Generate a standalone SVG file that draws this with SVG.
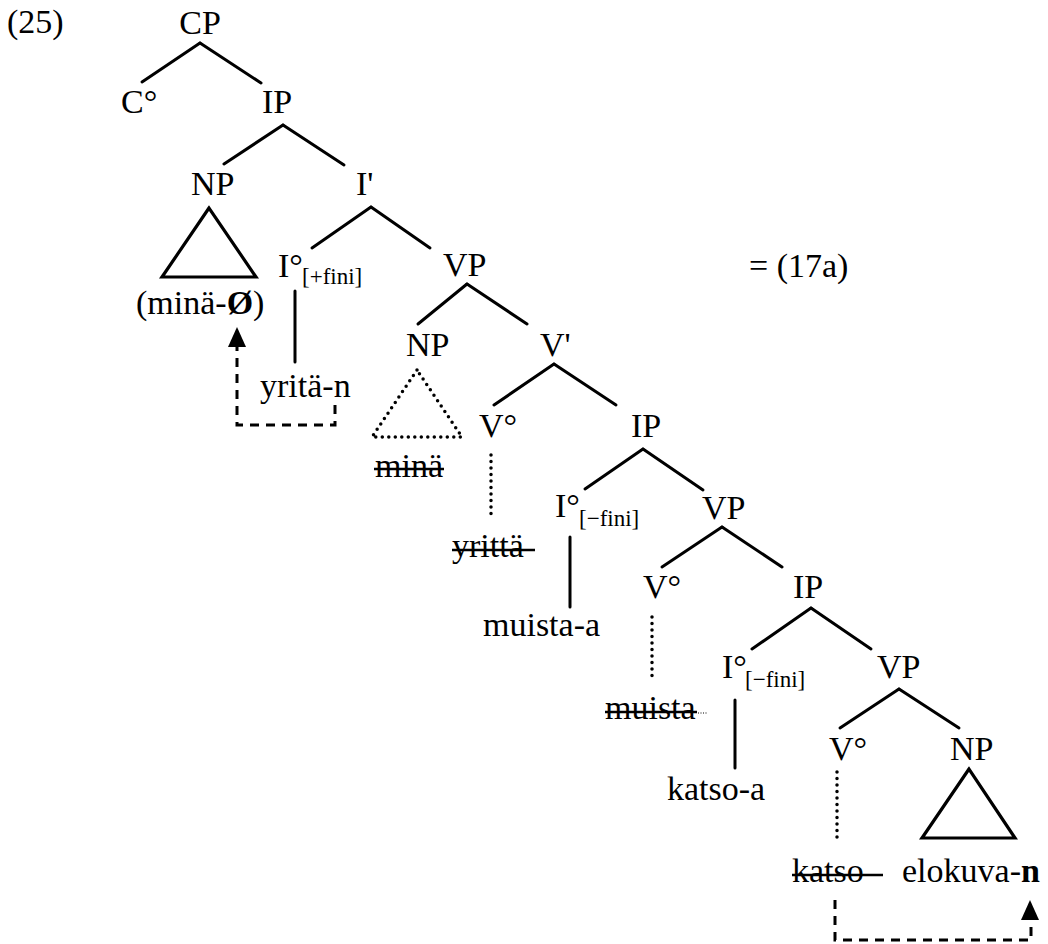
<svg xmlns="http://www.w3.org/2000/svg" width="1048" height="944" viewBox="0 0 1048 944">
<style>
text{font-family:"Liberation Serif","Times New Roman",serif;font-size:34px;fill:#000}
.sub{font-size:23px}
.e{stroke:#000;stroke-width:3;fill:none;stroke-linecap:round}
.tri{stroke:#000;stroke-width:3.2;fill:none;stroke-linejoin:miter}
.dot{stroke:#000;stroke-width:3.5;fill:none;stroke-linecap:round;stroke-dasharray:0 6.5}
.dash{stroke:#000;stroke-width:3;fill:none;stroke-dasharray:9 7}
.strike{stroke:#000;stroke-width:2.5}
</style>
<rect width="1048" height="944" fill="#fff"/>
<g id="label-25"><text x="7" y="33">(25)</text></g>
<g id="ref-17a"><text x="749" y="277">= (17a)</text></g>
<g id="CP"><text x="200" y="34" text-anchor="middle">CP</text></g>
<g id="C0"><text x="121" y="113">C°</text></g>
<g id="IP1"><text x="262" y="113">IP</text></g>
<g id="NP1"><text x="191" y="195">NP</text>
<polygon class="tri" points="209,208 162,277 256,277"/>
<text x="136" y="314">(minä-<tspan font-weight="bold">Ø</tspan>)</text></g>
<g id="I1bar"><text x="356" y="195">I'</text></g>
<g id="I0fin"><text x="278" y="277">I°</text><text class="sub" x="302" y="284">[+fini]</text>
<text x="260" y="397">yritä-n</text></g>
<g id="VP1"><text x="443" y="276">VP</text></g>
<g id="NP2"><text x="406" y="356">NP</text>
<polygon class="dot" points="417,370 372,437 462,437"/>
<text x="375" y="477">minä</text><line class="strike" x1="374" y1="469" x2="444" y2="469"/></g>
<g id="Vbar"><text x="540" y="356">V'</text></g>
<g id="V0a"><text x="479" y="437">V°</text>
<text x="452" y="557">yrittä</text><line class="strike" x1="452" y1="550" x2="535" y2="550"/></g>
<g id="IP2"><text x="631" y="437">IP</text></g>
<g id="I0nf1"><text x="555" y="517">I°</text><text class="sub" x="579" y="526">[−fini]</text>
<text x="483" y="636">muista-a</text></g>
<g id="VP2"><text x="702" y="519">VP</text></g>
<g id="V0b"><text x="643" y="598">V°</text>
<text x="605" y="719">muista</text><line class="strike" x1="605" y1="712" x2="697" y2="712"/>
<line x1="698" y1="713" x2="708" y2="713" stroke="#000" stroke-width="1" stroke-dasharray="1 1.5"/></g>
<g id="IP3"><text x="793" y="598">IP</text></g>
<g id="I0nf2"><text x="722" y="678">I°</text><text class="sub" x="745" y="687">[−fini]</text>
<text x="667" y="800">katso-a</text></g>
<g id="VP3"><text x="877" y="678">VP</text></g>
<g id="V0c"><text x="829" y="760">V°</text>
<text x="792" y="882">katso</text><line class="strike" x1="792" y1="875" x2="883" y2="875"/></g>
<g id="NP3"><text x="950" y="760">NP</text>
<polygon class="tri" points="969,769 922,838 1015,838"/>
<text x="902" y="882">elokuva-<tspan font-weight="bold">n</tspan></text></g>
<g id="connectors">
<line class="e" x1="200" y1="43" x2="142" y2="82"/>
<line class="e" x1="200" y1="43" x2="261" y2="83"/>
<line class="e" x1="283" y1="125" x2="224" y2="164"/>
<line class="e" x1="283" y1="125" x2="344" y2="165"/>
<line class="e" x1="371" y1="207" x2="312" y2="248"/>
<line class="e" x1="371" y1="207" x2="430" y2="248"/>
<line class="e" x1="295" y1="291" x2="295" y2="362"/>
<line class="e" x1="467" y1="284" x2="418" y2="324"/>
<line class="e" x1="467" y1="284" x2="527" y2="324"/>
<line class="e" x1="554" y1="364" x2="494" y2="405"/>
<line class="e" x1="554" y1="364" x2="616" y2="405"/>
<line class="dot" x1="491" y1="455" x2="491" y2="520"/>
<line class="e" x1="643" y1="449" x2="585" y2="489"/>
<line class="e" x1="643" y1="449" x2="703" y2="490"/>
<line class="e" x1="570" y1="537" x2="570" y2="607"/>
<line class="e" x1="722" y1="527" x2="662" y2="567"/>
<line class="e" x1="722" y1="527" x2="782" y2="567"/>
<line class="dot" x1="652" y1="617" x2="652" y2="682"/>
<line class="e" x1="811" y1="608" x2="752" y2="649"/>
<line class="e" x1="811" y1="608" x2="871" y2="649"/>
<line class="e" x1="735" y1="700" x2="735" y2="768"/>
<line class="e" x1="899" y1="689" x2="840" y2="728"/>
<line class="e" x1="899" y1="689" x2="959" y2="728"/>
<line class="dot" x1="837" y1="772" x2="837" y2="838"/>
<path class="dash" d="M335,405 V425 H237 V346"/>
<polygon points="237,327 228,347 246,347" fill="#000"/>
<path class="dash" d="M835,900 V940 H1031 V921"/>
<polygon points="1030,900 1021,920 1039,920" fill="#000"/>
</g>
</svg>
